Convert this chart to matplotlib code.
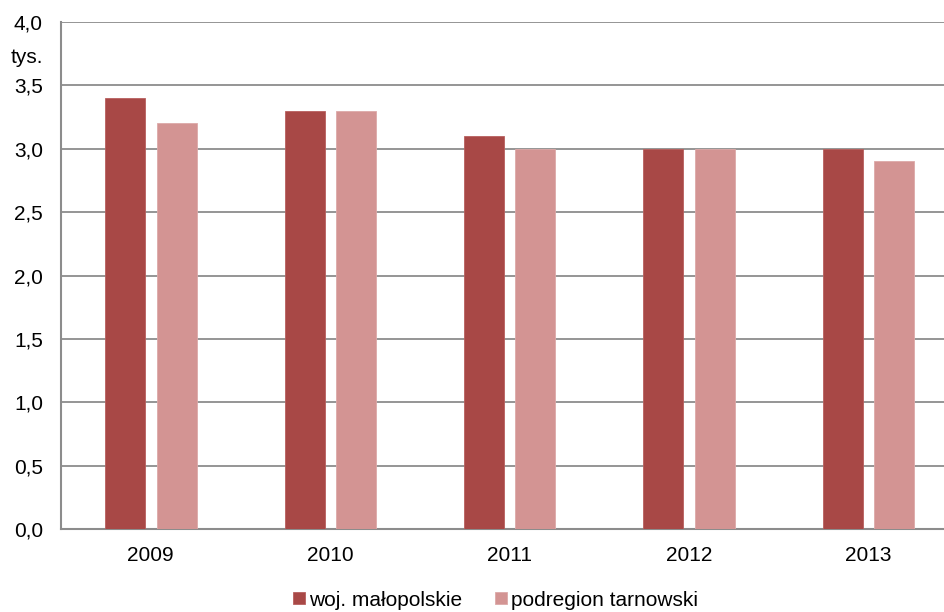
import numpy as np
import matplotlib.pyplot as plt

plt.rcParams['font.family'] = ['Liberation Sans', 'DejaVu Sans']

# data
years = ['2009', '2010', '2011', '2012', '2013']
malopolskie = [3.4, 3.3, 3.1, 3.0, 3.0]
tarnowski = [3.2, 3.3, 3.0, 3.0, 2.9]
yticks = [0.0, 0.5, 1.0, 1.5, 2.0, 2.5, 3.0, 3.5, 4.0]

dark = '#A84846'
light = '#D39493'
grid = '#8C8C8C'

fig = plt.figure(figsize=(9.44, 6.12), dpi=100)
# plot area runs a bit past the right edge of the image, like the original
ax = fig.add_axes([0.0646, 0.1356, 0.950, 0.8284])

x = np.arange(len(years))
w = 0.223
ax.bar(x - 0.142, malopolskie, w, color=dark, edgecolor='#B8605E', linewidth=0.6,
       label='woj. małopolskie', zorder=3)
ax.bar(x + 0.145, tarnowski, w, color=light, edgecolor='#DDA9A8', linewidth=0.6,
       label='podregion tarnowski', zorder=3)

ax.set_xlim(-0.5, len(years) - 0.5)
ax.set_ylim(0, 4.0)
ax.set_xticks(x)
ax.set_xticklabels(years)
ax.set_yticks(yticks)
ax.set_yticklabels([f'{v:.1f}'.replace('.', ',') for v in yticks])
ax.tick_params(axis='both', length=0, labelsize=15, colors='black')
ax.tick_params(axis='y', pad=13)
ax.tick_params(axis='x', pad=12)

ax.yaxis.grid(True, color=grid, linewidth=1.3, zorder=0)
ax.set_axisbelow(True)
for s in ['top', 'right']:
    ax.spines[s].set_visible(False)
for s in ['left', 'bottom']:
    ax.spines[s].set_color(grid)
    ax.spines[s].set_linewidth(1.5)

fig.text(0.011, 1 - 63 / 612, 'tys.', fontsize=15, va='baseline', ha='left')

fig.legend(loc='center', bbox_to_anchor=(0.525, 1 - 600 / 612), ncol=2, frameon=False,
           fontsize=15, handlelength=0.55, handleheight=0.55, handletextpad=0.2,
           columnspacing=1.6, borderaxespad=0, borderpad=0)

fig.savefig('out.png', dpi=100)
